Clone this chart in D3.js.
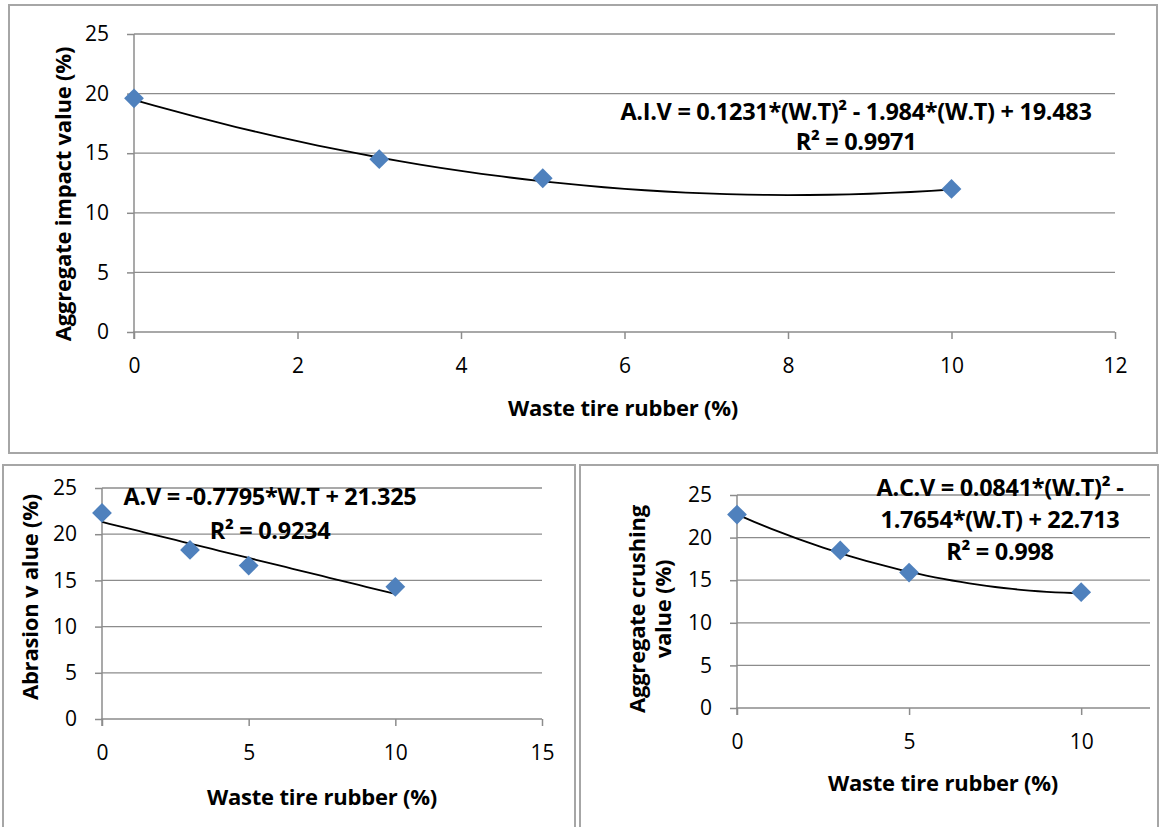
<!DOCTYPE html>
<html>
<head>
<meta charset="utf-8">
<script src="https://cdn.jsdelivr.net/npm/d3@7"></script>
<style>
  body { margin: 0; background: #fff; }
  text { font-family: "Open Sans", sans-serif; fill: #000; }
</style>
</head>
<body>
<div class="charts"></div>
<script>
const wasteTire = [0, 3, 5, 10];
const impactValue = [19.6, 14.5, 12.9, 12.0];
const abrasionValue = [22.3, 18.3, 16.6, 14.3];
const crushingValue = [22.7, 18.5, 15.9, 13.6];

// trendline coefficients [a, b, c] for a*x^2 + b*x + c, as printed on the chart
const impactFit = [0.1231, -1.984, 19.483];
const abrasionFit = [0, -0.7795, 21.325];
const crushingFit = [0.0841, -1.7654, 22.713];

const yTicks = [0, 5, 10, 15, 20, 25];
const impactXTicks = [0, 2, 4, 6, 8, 10, 12];
const abrasionXTicks = [0, 5, 10, 15];
const crushingXTicks = [0, 5, 10];

const xTitle = "Waste tire rubber (%)";
const impactLabel = ["A.I.V = 0.1231*(W.T)\u00b2 - 1.984*(W.T) + 19.483", "R\u00b2 = 0.9971"];
const abrasionLabel = ["A.V = -0.7795*W.T + 21.325", "R\u00b2 = 0.9234"];
const crushingLabel = ["A.C.V = 0.0841*(W.T)\u00b2 -", "1.7654*(W.T) + 22.713", "R\u00b2 = 0.998"];

const width = 1160;
const height = 827;

const svg = d3.select(".charts").append("svg")
  .attr("width", width)
  .attr("height", height);

function drawChart(c) {
  const g = svg.append("g");

  g.append("rect")
    .attr("x", c.box[0]).attr("y", c.box[1])
    .attr("width", c.box[2]).attr("height", c.box[3])
    .attr("fill", "none")
    .attr("stroke", "#a6a6a6")
    .attr("stroke-width", 2);

  const x = d3.scaleLinear().domain(c.xDomain).range([c.left, c.right]);
  const y = d3.scaleLinear().domain([0, 25]).range([c.bottom, c.top]);

  // gridlines
  g.append("g")
    .selectAll("line")
    .data(yTicks.filter((d) => d > 0)).enter()
    .append("line")
      .attr("x1", c.left).attr("x2", c.right)
      .attr("y1", (d) => y(d)).attr("y2", (d) => y(d))
      .attr("stroke", "#8c8c8c")
      .attr("stroke-width", 1.3);

  // axes
  const yAxis = d3.axisLeft(y).tickValues(yTicks).tickSize(7).tickPadding(18);
  const gy = g.append("g")
    .attr("transform", `translate(${c.left},0)`)
    .call(yAxis);

  const xAxis = d3.axisBottom(x).tickValues(c.xTicks).tickSize(7).tickPadding(19);
  const gx = g.append("g")
    .attr("transform", `translate(0,${c.bottom})`)
    .call(xAxis);

  [gx, gy].forEach((a) => {
    a.select(".domain").attr("stroke", "#8c8c8c").attr("stroke-width", 1.5);
    a.selectAll(".tick line").attr("stroke", "#8c8c8c").attr("stroke-width", 1.5);
    a.selectAll(".tick text")
      .style("font-family", "'Open Sans', sans-serif")
      .style("font-size", "21px")
      .attr("fill", "#000");
  });
  gx.select(".domain").attr("d", `M${c.left},7V0H${c.right}`);
  gy.select(".domain").attr("d", `M0,${c.bottom}V${c.top}`);

  // trendline
  const fit = (t) => c.fit[0] * t * t + c.fit[1] * t + c.fit[2];
  const line = d3.line().x((d) => x(d)).y((d) => y(fit(d)));
  g.append("path")
    .datum(d3.range(0, 10.01, 0.25))
    .attr("d", line)
    .attr("fill", "none")
    .attr("stroke", "#000")
    .attr("stroke-width", 1.8);

  // markers
  g.append("g")
    .selectAll("path")
    .data(wasteTire.map((d, i) => [d, c.values[i]])).enter()
    .append("path")
      .attr("d", d3.symbol(d3.symbolDiamond2, 250)())
      .attr("transform", (d) => `translate(${x(d[0])},${y(d[1])})`)
      .attr("fill", "#4f81bd");

  // equation label
  g.append("g")
    .selectAll("text")
    .data(c.label).enter()
    .append("text")
      .attr("x", (d, i) => c.labelX[i])
      .attr("y", (d, i) => c.labelY[i])
      .attr("text-anchor", "middle")
      .attr("dy", "0.35em")
      .style("font-size", "23.5px")
      .style("font-weight", "bold")
      .style("letter-spacing", "-0.3px")
      .text((d) => d);

  // axis titles
  g.append("text")
    .attr("x", c.xTitle[0]).attr("y", c.xTitle[1])
    .attr("text-anchor", "middle")
    .attr("dy", "0.35em")
    .style("font-size", "22px")
    .style("font-weight", "bold")
    .style("letter-spacing", "-0.2px")
    .text(xTitle);

  c.yTitle.forEach((t) => {
    g.append("text")
      .attr("transform", `translate(${t[1]},${t[2]}) rotate(-90)`)
      .attr("text-anchor", "middle")
      .attr("dy", "0.35em")
      .style("font-size", "22px")
      .style("font-weight", "bold")
      .style("letter-spacing", "-0.2px")
      .text(t[0]);
  });
}

drawChart({
  box: [9, 5, 1148, 448],
  left: 134, right: 1115, top: 34, bottom: 332,
  xDomain: [0, 12], xTicks: impactXTicks,
  values: impactValue, fit: impactFit,
  label: impactLabel, labelX: [856, 856], labelY: [112, 142],
  xTitle: [623, 408],
  yTitle: [["Aggregate impact value (%)", 63, 194]]
});

drawChart({
  box: [3, 465, 572, 370],
  left: 102, right: 542, top: 488, bottom: 719,
  xDomain: [0, 15], xTicks: abrasionXTicks,
  values: abrasionValue, fit: abrasionFit,
  label: abrasionLabel, labelX: [270, 270], labelY: [497, 531],
  xTitle: [322, 797],
  yTitle: [["Abrasion v alue (%)", 30, 597]]
});

drawChart({
  box: [580, 465, 578, 370],
  left: 737, right: 1150, top: 495, bottom: 708,
  xDomain: [0, 12], xTicks: crushingXTicks,
  values: crushingValue, fit: crushingFit,
  label: crushingLabel, labelX: [1000, 1000, 1000], labelY: [488, 520, 552],
  xTitle: [943, 783],
  yTitle: [["Aggregate crushing", 637, 609], ["value (%)", 663, 609]]
});
</script>
</body>
</html>
